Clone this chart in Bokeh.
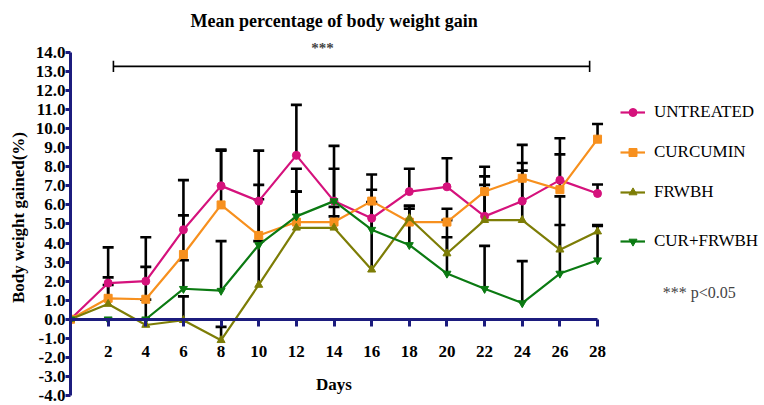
import numpy as np
from bokeh.plotting import figure
from bokeh.models import (ColumnDataSource, Whisker, TeeHead, LinearAxis, FixedTicker,
                          Legend, LegendItem, Label, Range1d, PrintfTickFormatter, Title)
from bokeh.embed import file_html
from bokeh.resources import INLINE

# ---------------- data ----------------
days = [0, 2, 4, 6, 8, 10, 12, 14, 16, 18, 20, 22, 24, 26, 28]
day_ticks = [2, 4, 6, 8, 10, 12, 14, 16, 18, 20, 22, 24, 26, 28]
y_ticks = [-4, -3, -2, -1, 0, 1, 2, 3, 4, 5, 6, 7, 8, 9, 10, 11, 12, 13, 14]

untreated = [0, 1.9, 2.0, 4.7, 7.0, 6.2, 8.6, 6.2, 5.3, 6.7, 6.95, 5.4, 6.2, 7.3, 6.6]
curcumin = [0, 1.1, 1.05, 3.4, 6.0, 4.4, 5.1, 5.1, 6.2, 5.1, 5.1, 6.7, 7.4, 6.8, 9.45]
frwbh = [0, 0.8, -0.3, -0.05, -1.1, 1.8, 4.8, 4.8, 2.6, 5.3, 3.45, 5.2, 5.2, 3.65, 4.6]
cur_frwbh = [0, 0, 0, 1.6, 1.5, 3.9, 5.4, 6.2, 4.7, 3.9, 2.4, 1.6, 0.85, 2.4, 3.1]

untreated_sem = [0, 1.87, 2.3, 2.6, 1.9, 2.65, 2.65, 2.9, 1.5, 1.2, 1.5, 1.65, 2.0, 2.2, 0.47]
curcumin_sem = [0, 1.1, 1.7, 2.05, 2.85, 2.65, 1.6, 0.8, 1.4, 0.85, 0.7, 1.3, 1.75, 1.85, 0.8]
frwbh_sem = [0, 1.0, 1.33, 1.25, 0.7, 4.5, 1.9, 0.6, 3.5, 0.65, 0.85, 2.3, 2.6, 1.3, 0.35]
cur_frwbh_sem = [0, 0, 0, 1.5, 2.6, 0.2, 2.5, 1.7, 1.45, 1.9, 2.8, 2.25, 2.2, 4.05, 1.8]

series_names = ["UNTREATED", "CURCUMIN", "FRWBH", "CUR+FRWBH"]

sig_start, sig_end, sig_level = 2.28, 27.58, 13.27

# ---------------- styles ----------------
SERIF = "Liberation Serif"
NAVY = "#1c1c7e"
colors = ["#d5127c", "#f7901e", "#7d7d06", "#0b7a12"]
markers = ["circle", "square", "triangle", "inverted_triangle"]

p = figure(width=764, height=405, output_backend="svg", toolbar_location=None,
           x_axis_location=None, y_axis_location="left",
           x_range=Range1d(0, 36.87), y_range=Range1d(-4, 14.68),
           min_border_left=70, min_border_right=0, min_border_top=38, min_border_bottom=10)
p.outline_line_color = None
p.xgrid.visible = False
p.ygrid.visible = False
p.background_fill_color = "white"
p.border_fill_color = "white"

# y axis
ya = p.yaxis[0]
ya.bounds = (-4, 14)
ya.ticker = FixedTicker(ticks=y_ticks)
ya.formatter = PrintfTickFormatter(format="%.1f")
ya.axis_line_color = NAVY
ya.axis_line_width = 3
ya.major_tick_line_color = NAVY
ya.major_tick_line_width = 3
ya.major_tick_out = 5
ya.major_tick_in = 0
ya.minor_tick_line_color = None
ya.major_label_text_font = SERIF
ya.major_label_text_font_style = "bold"
ya.major_label_text_font_size = "17px"
ya.major_label_text_color = "black"
ya.major_label_standoff = 0
ya.axis_label = "Body weight gained(%)"
ya.axis_label_text_font = SERIF
ya.axis_label_text_font_style = "bold"
ya.axis_label_text_font_size = "17px"
ya.axis_label_text_color = "black"
ya.axis_label_standoff = 5

# x axis fixed at y = 0
xa = LinearAxis(fixed_location=0, bounds=(0, 28))
xa.ticker = FixedTicker(ticks=day_ticks)
xa.axis_line_color = NAVY
xa.axis_line_width = 3
xa.major_tick_line_color = NAVY
xa.major_tick_line_width = 3
xa.major_tick_out = 7
xa.major_tick_in = 0
xa.minor_tick_line_color = None
xa.major_label_text_font = SERIF
xa.major_label_text_font_style = "bold"
xa.major_label_text_font_size = "17px"
xa.major_label_text_color = "black"
xa.major_label_standoff = 20
xa.axis_label = "Days"
xa.axis_label_text_font = SERIF
xa.axis_label_text_font_style = "bold"
xa.axis_label_text_font_size = "17px"
xa.axis_label_text_color = "black"
xa.axis_label_standoff = 14
p.add_layout(xa, "below")

means = [untreated, curcumin, frwbh, cur_frwbh]
sems = [untreated_sem, curcumin_sem, frwbh_sem, cur_frwbh_sem]

# error bars (upper only)
for m, s in zip(means, sems):
    m = np.array(m, dtype=float)
    s = np.array(s, dtype=float)
    d = np.array(days, dtype=float)
    keep = s > 0
    src = ColumnDataSource(dict(day=d[keep], mean=m[keep], upper=(m + s)[keep]))
    w = Whisker(source=src, base="day", lower="mean", upper="upper", dimension="height",
                line_color="black", line_width=2.6, level="underlay",
                upper_head=TeeHead(size=11, line_color="black", line_width=2.6),
                lower_head=None)
    p.add_layout(w)

items = []
for name, m, c, mk in zip(series_names, means, colors, markers):
    src = ColumnDataSource(dict(day=days, val=m))
    ln = p.line("day", "val", source=src, line_color=c, line_width=2.2)
    sc = p.scatter("day", "val", source=src, marker=mk, size=8, fill_color=c, line_color=c)
    items.append(LegendItem(label=name, renderers=[ln, sc]))

def make_legend(its, loc):
    lg = Legend(items=its, location=loc, orientation="vertical",
                label_text_font=SERIF, label_text_font_size="17px", label_text_color="black",
                glyph_width=25, glyph_height=20, label_height=20, label_standoff=9,
                spacing=20, padding=0, margin=0,
                border_line_color=None, background_fill_alpha=0)
    p.add_layout(lg, "center")

make_legend(items[:3], (550, 193))
make_legend(items[3:], (550, 144))

# significance bar
p.line([sig_start, sig_end], [sig_level, sig_level], line_color="black", line_width=1.6)
p.segment([sig_start, sig_end], [sig_level - 0.3, sig_level - 0.3],
          [sig_start, sig_end], [sig_level + 0.3, sig_level + 0.3],
          line_color="black", line_width=1.6)

p.add_layout(Label(x=13.39, y=14.26, text="***", text_font=SERIF, text_font_style="bold",
                   text_font_size="15px", text_align="center", text_baseline="middle"))
p.add_layout(Label(x=33.4, y=1.38, text="*** p<0.05", text_font=SERIF,
                   text_font_size="16px", text_align="center", text_baseline="middle"))

p.add_layout(Title(text="Mean percentage of body weight gain", align="left", offset=120,
                   text_font=SERIF, text_font_style="bold", text_font_size="18px",
                   text_color="black", standoff=17), "above")

open("out.html", "w").write(file_html(p, INLINE))
